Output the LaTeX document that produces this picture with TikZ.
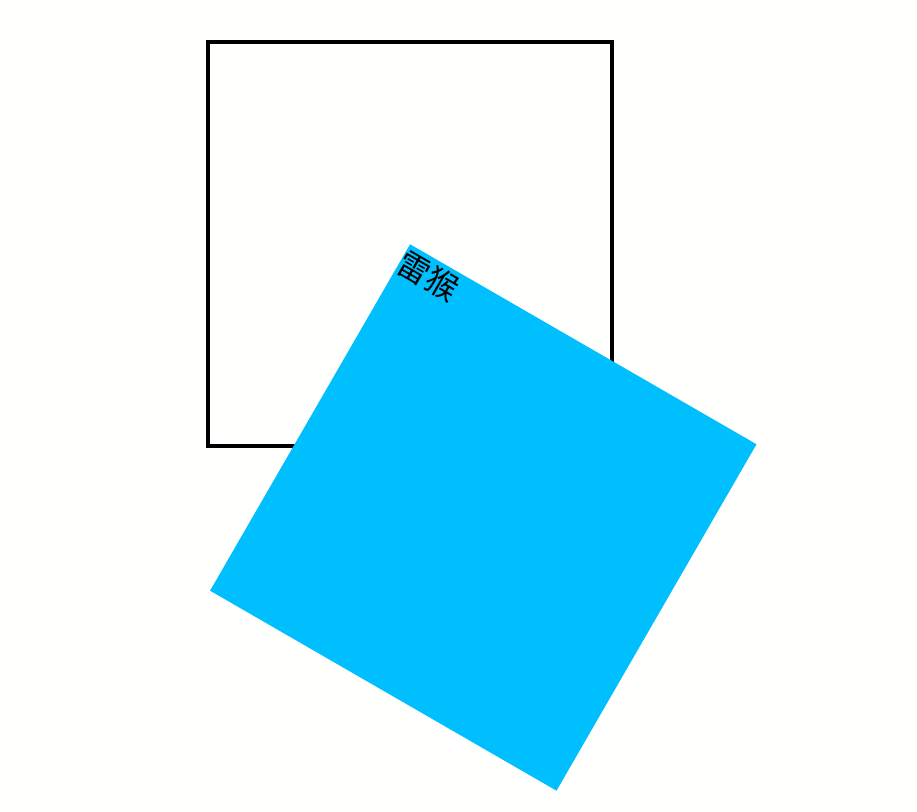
\documentclass[tikz,border=0pt]{standalone}
\usepackage{fontspec}
\newfontfamily\cjk{Noto Sans CJK SC}
\usetikzlibrary{positioning}
\definecolor{paperbg}{RGB}{255,255,253}
\definecolor{skyblue}{RGB}{0,191,255}

\begin{document}
\begin{tikzpicture}[x=1pt, y=-1pt]
  \tikzset{
    frame/.style={draw=black, line width=3.5pt, minimum size=404pt, inner sep=0pt},
    tile/.style={fill=skyblue, minimum size=400pt, inner sep=0pt, rotate=-30},
    label/.style={font=\cjk\fontsize{32}{32}\selectfont, inner xsep=0pt, inner ysep=4pt, rotate=-30}
  }

  % page
  \fill[paperbg] (0,0) rectangle (917,811);
  \useasboundingbox (0,0) rectangle (917,811);

  % outlined square
  \node[frame] (box) at (410,244) {};

  % turned square, its corner on the centre of the outline
  \node[tile, anchor=north west] (sq) at (box.center) {};
  \node[label, anchor=north west] (txt) at (sq.north west) {雷猴};
\end{tikzpicture}
\end{document}
